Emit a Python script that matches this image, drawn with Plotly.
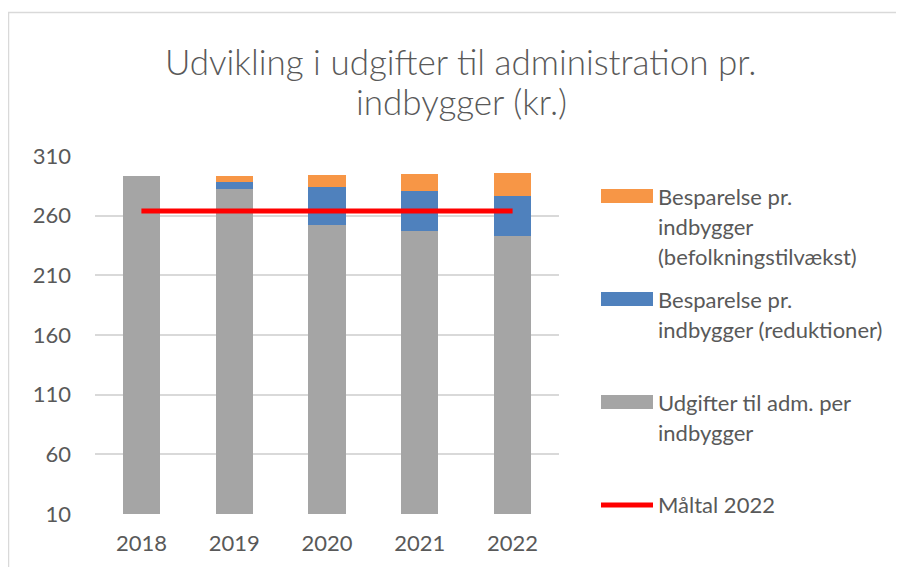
import plotly.graph_objects as go

# ---- data ----
years = ["2018", "2019", "2020", "2021", "2022"]
udgifter = [293, 282, 252.5, 247.5, 243]
besparelse_reduktioner = [0, 6, 31.5, 33, 33.5]
besparelse_befolkning = [0, 5, 10.5, 14.5, 19]
maaltal = [264, 264, 264, 264, 264]
y_ticks = [10, 60, 110, 160, 210, 260, 310]

title_lines = ["Udvikling i udgifter til administration pr.", "indbygger (kr.)"]
name_befolkning = ["Besparelse pr.", "indbygger", "(befolkningstilvækst)"]
name_reduktioner = ["Besparelse pr.", "indbygger (reduktioner)"]
name_udgifter = ["Udgifter til adm. per", "indbygger"]
name_maaltal = ["Måltal 2022"]

C_GRAY = "#A5A5A5"
C_BLUE = "#4F81BD"
C_ORANGE = "#F79646"
C_RED = "#FF0000"
TXT = "#595959"
FONT = "Lato"

W, H = 904, 567
OFF = 8  # page body margin
L, R, T, B = 95 - OFF, 559 - OFF, 156 - OFF, 514 - OFF  # plot area in figure pixels
pw, ph = R - L, B - T


def px(x):
    return (x - OFF - L) / pw


def py(y):
    return (B - (y - OFF)) / ph


fig = go.Figure()
fig.add_trace(go.Bar(x=years, y=udgifter, name=" ".join(name_udgifter),
                     marker=dict(color=C_GRAY, line=dict(width=0))))
fig.add_trace(go.Bar(x=years, y=besparelse_reduktioner, name=" ".join(name_reduktioner),
                     marker=dict(color=C_BLUE, line=dict(width=0))))
fig.add_trace(go.Bar(x=years, y=besparelse_befolkning, name=" ".join(name_befolkning),
                     marker=dict(color=C_ORANGE, line=dict(width=0))))
fig.add_trace(go.Scatter(x=years, y=maaltal, name=name_maaltal[0], mode="lines",
                         line=dict(color=C_RED, width=5)))

shapes = []
annotations = []

# outer border
shapes.append(dict(type="rect", xref="paper", yref="paper",
                   x0=px(8.5), x1=px(920), y0=py(12.5), y1=py(590),
                   line=dict(color="#D9D9D9", width=1.5), fillcolor="rgba(0,0,0,0)", layer="below"))

# title
for i, t in enumerate(title_lines):
    annotations.append(dict(text=t, xref="paper", yref="paper", x=px(461), y=py(61 + 40 * i),
                            xanchor="center", yanchor="middle", showarrow=False,
                            font=dict(family=FONT, size=35, color=TXT, weight=300)))

# legend (manual, to match Excel layout)
legend_items = [
    (name_befolkning, C_ORANGE, "bar", 196),
    (name_reduktioner, C_BLUE, "bar", 299),
    (name_udgifter, C_GRAY, "bar", 402),
    (name_maaltal, C_RED, "line", 504),
]
for lines, color, kind, y0 in legend_items:
    if kind == "bar":
        shapes.append(dict(type="rect", xref="paper", yref="paper",
                           x0=px(601), x1=px(653), y0=py(y0 - 7), y1=py(y0 + 7),
                           fillcolor=color, line=dict(width=0)))
    else:
        shapes.append(dict(type="line", xref="paper", yref="paper",
                           x0=px(601), x1=px(653), y0=py(y0 + 1), y1=py(y0 + 1),
                           line=dict(color=color, width=5)))
    for j, ln in enumerate(lines):
        annotations.append(dict(text=ln, xref="paper", yref="paper", x=px(656), y=py(y0 + 30 * j),
                                xanchor="left", yanchor="middle", showarrow=False,
                                font=dict(family=FONT, size=22, color=TXT)))

fig.update_layout(
    width=W, height=H,
    margin=dict(l=L, r=W - R, t=T, b=H - B),
    barmode="stack", bargap=0.6,
    showlegend=False,
    paper_bgcolor="white", plot_bgcolor="white",
    font=dict(family=FONT, size=22, color=TXT),
    shapes=shapes, annotations=annotations,
    xaxis=dict(type="category", showgrid=False, showline=False, ticks="",
               tickfont=dict(family=FONT, size=22, color=TXT), ticklabelstandoff=14),
    yaxis=dict(range=[10, 310], tickvals=y_ticks, showgrid=True, gridcolor="#D9D9D9",
               gridwidth=1.5, zeroline=False, showline=False, ticks="",
               tickfont=dict(family=FONT, size=22, color=TXT), ticklabelstandoff=23),
)

fig.write_html("out.html")
